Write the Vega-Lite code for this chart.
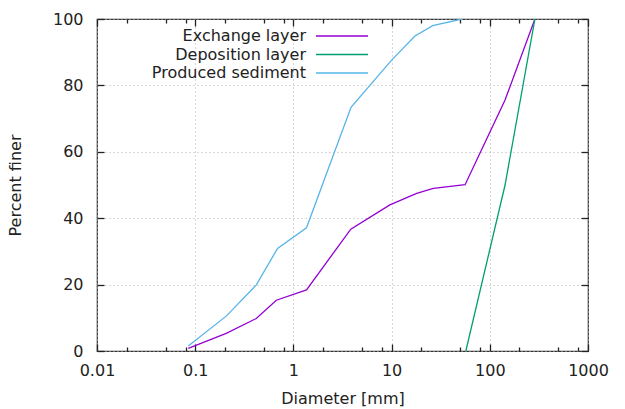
{
  "$schema": "https://vega.github.io/schema/vega-lite/v6.json",
  "width": 491,
  "height": 332,
  "autosize": {"type": "none"},
  "padding": {"left": 97, "top": 19, "right": 37, "bottom": 58},
  "background": "white",
  "config": {
    "font": "DejaVu Sans",
    "view": {"stroke": "#333333", "strokeWidth": 1.2},
    "axis": {"labelFont": "DejaVu Sans", "titleFont": "DejaVu Sans", "labelFontSize": 16, "titleFontSize": 16, "titleFontWeight": "normal", "labelColor": "#222222", "titleColor": "#222222", "domain": false, "tickColor": "#222222", "tickWidth": 1.3, "gridColor": "#b0b0b0", "gridDash": [1, 3], "gridWidth": 1}
  },
  "data": {"values": [
    {"series": "Produced sediment", "d": 0.085, "p": 1.5},
    {"series": "Produced sediment", "d": 0.207, "p": 10.5},
    {"series": "Produced sediment", "d": 0.419, "p": 19.9},
    {"series": "Produced sediment", "d": 0.69, "p": 30.9},
    {"series": "Produced sediment", "d": 1.36, "p": 37.1},
    {"series": "Produced sediment", "d": 3.86, "p": 73.4},
    {"series": "Produced sediment", "d": 10, "p": 87.6},
    {"series": "Produced sediment", "d": 17.3, "p": 94.9},
    {"series": "Produced sediment", "d": 26.2, "p": 98.0},
    {"series": "Produced sediment", "d": 52, "p": 100},
    {"series": "Exchange layer", "d": 0.085, "p": 0.8},
    {"series": "Exchange layer", "d": 0.207, "p": 5.3},
    {"series": "Exchange layer", "d": 0.419, "p": 9.8},
    {"series": "Exchange layer", "d": 0.67, "p": 15.3},
    {"series": "Exchange layer", "d": 1.36, "p": 18.4},
    {"series": "Exchange layer", "d": 3.84, "p": 36.7},
    {"series": "Exchange layer", "d": 9.6, "p": 44.0},
    {"series": "Exchange layer", "d": 18, "p": 47.5},
    {"series": "Exchange layer", "d": 26.6, "p": 49.0},
    {"series": "Exchange layer", "d": 56, "p": 50.1},
    {"series": "Exchange layer", "d": 143, "p": 75.6},
    {"series": "Exchange layer", "d": 288, "p": 100},
    {"series": "Deposition layer", "d": 57, "p": 0},
    {"series": "Deposition layer", "d": 143, "p": 50},
    {"series": "Deposition layer", "d": 288, "p": 100}
  ]},
  "resolve": {"axis": {"x": "independent", "y": "independent"}},
  "layer": [
    {
      "mark": {"type": "line", "strokeWidth": 1.3, "clip": true},
      "encoding": {
        "x": {"field": "d", "type": "quantitative",
          "scale": {"type": "log", "domain": [0.01, 1000], "nice": false},
          "axis": {"title": "Diameter [mm]", "orient": "bottom", "ticks": false, "tickSize": 0,
            "values": [0.01, 0.1, 1, 10, 100, 1000],
            "labelExpr": "'' + datum.value",
            "labelPadding": 11, "titlePadding": 12, "labelFlush": false}},
        "y": {"field": "p", "type": "quantitative",
          "scale": {"domain": [0, 100], "nice": false},
          "axis": {"title": "Percent finer", "orient": "left", "ticks": false, "tickSize": 0, "values": [0, 20, 40, 60, 80, 100], "labelPadding": 14, "titlePadding": 29}},
        "color": {"field": "series", "type": "nominal",
          "scale": {"domain": ["Exchange layer", "Deposition layer", "Produced sediment"], "range": ["#9400d3", "#009e73", "#56b4e9"]},
          "legend": {"title": null, "orient": "none", "legendX": 219, "legendY": 9, "padding": 0,
            "symbolType": "M-13,0H13", "symbolSize": 16, "symbolStrokeWidth": 1.3, "symbolOffset": 18, "symbolFillColor": "transparent",
            "labelAlign": "right", "labelOffset": -44, "labelFontSize": 16, "labelFont": "DejaVu Sans", "labelColor": "#222222", "rowPadding": 2.5, "labelLimit": 300}}
      }
    },
    {
      "mark": {"type": "line", "opacity": 0},
      "encoding": {
        "x": {"field": "d", "type": "quantitative",
          "axis": {"orient": "bottom", "title": null, "labels": false, "grid": false, "offset": -7, "tickSize": 7,
            "values": [0.01, 0.1, 1, 10, 100, 1000]}},
        "y": {"field": "p", "type": "quantitative",
          "axis": {"orient": "left", "title": null, "labels": false, "grid": false, "offset": -7, "tickSize": 7, "values": [0, 20, 40, 60, 80, 100]}},
        "detail": {"field": "series"}
      }
    },
    {
      "mark": {"type": "line", "opacity": 0},
      "encoding": {
        "x": {"field": "d", "type": "quantitative",
          "axis": {"orient": "top", "title": null, "labels": false, "grid": false, "offset": -7, "tickSize": 7,
            "values": [0.01, 0.1, 1, 10, 100, 1000]}},
        "y": {"field": "p", "type": "quantitative",
          "axis": {"orient": "right", "title": null, "labels": false, "grid": false, "offset": -7, "tickSize": 7, "values": [0, 20, 40, 60, 80, 100]}},
        "detail": {"field": "series"}
      }
    },
    {
      "mark": {"type": "line", "opacity": 0},
      "encoding": {
        "x": {"field": "d", "type": "quantitative",
          "axis": {"orient": "bottom", "title": null, "labels": false, "grid": false, "offset": -4, "tickSize": 4,
            "values": [0.02, 0.05, 0.08, 0.2, 0.5, 0.8, 2, 5, 8, 20, 50, 80, 200, 500, 800]}},
        "y": {"field": "p", "type": "quantitative", "axis": null},
        "detail": {"field": "series"}
      }
    },
    {
      "mark": {"type": "line", "opacity": 0},
      "encoding": {
        "x": {"field": "d", "type": "quantitative",
          "axis": {"orient": "top", "title": null, "labels": false, "grid": false, "offset": -4, "tickSize": 4,
            "values": [0.02, 0.05, 0.08, 0.2, 0.5, 0.8, 2, 5, 8, 20, 50, 80, 200, 500, 800]}},
        "y": {"field": "p", "type": "quantitative", "axis": null},
        "detail": {"field": "series"}
      }
    }
  ]
}
